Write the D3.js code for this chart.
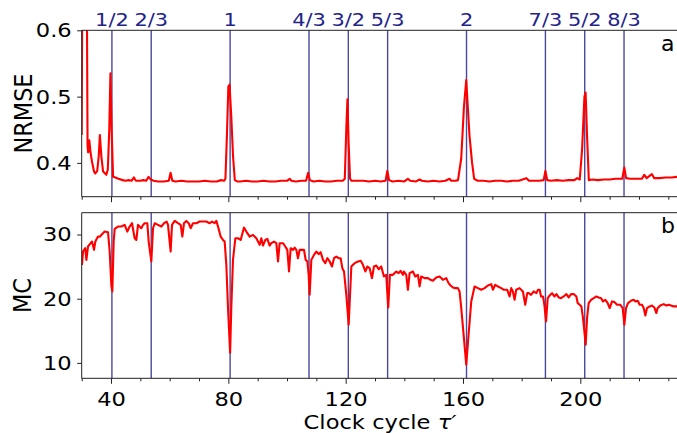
<!DOCTYPE html>
<html><head><meta charset="utf-8">
<script src="https://cdn.jsdelivr.net/npm/d3@7"></script>
<style>
body{margin:0;background:#fff;}
svg{display:block;font-family:"DejaVu Sans",sans-serif;}
</style></head>
<body><svg id="c" width="677" height="433"></svg>
<script>
// ---- data ----
const nrmseTau = [30.0,30.4,31.5,32.0,32.2,32.6,33.0,33.5,34.2,34.6,35.3,35.8,36.2,36.7,37.3,38.0,38.4,38.9,39.4,39.8,40.2,40.7,41.5,42.5,44,45,46,47,47.8,48.5,50,51,52,52.8,53.5,54.5,56,58,59.7,60.3,60.9,62,64,66,68,70,72,74,76,77.5,78.5,79.0,79.5,80.0,80.4,81.0,81.6,82.2,83,84,86,88,90,92,94,96,98,100,100.9,101.5,103,105,106.5,107.2,107.8,109,111,113,115,117,119,119.7,120.2,120.6,121.0,121.5,122,124,126,128,130,132,133.6,134.2,134.8,136,138,140,141.2,142,144,145.2,146,148,150,152,154,155.4,156,157.5,158.3,159.4,160.3,161.1,162.2,163.1,163.8,165,167,169,171,173,175,177,179,181.6,182.5,184,186,187.5,188.1,188.7,190,192,194,196,198,198.9,199.8,200.6,201.4,201.8,202.3,202.9,204,206,208,210,212,214.3,215.0,215.6,217,219,221,221.8,222.6,224.4,225.2,227,229,231,233.3];
const nrmse = [0.442,0.9,0.9,0.425,0.416,0.434,0.416,0.402,0.387,0.384,0.388,0.41,0.442,0.41,0.387,0.384,0.382,0.39,0.45,0.535,0.45,0.379,0.378,0.376,0.374,0.373,0.374,0.373,0.378,0.373,0.373,0.374,0.373,0.379,0.375,0.373,0.372,0.372,0.373,0.385,0.373,0.372,0.373,0.372,0.372,0.372,0.373,0.372,0.372,0.374,0.373,0.376,0.44,0.515,0.518,0.47,0.41,0.374,0.372,0.372,0.373,0.372,0.372,0.373,0.372,0.372,0.373,0.373,0.376,0.373,0.372,0.373,0.373,0.385,0.374,0.372,0.373,0.372,0.372,0.373,0.373,0.376,0.45,0.496,0.43,0.376,0.373,0.373,0.373,0.372,0.373,0.372,0.373,0.388,0.374,0.372,0.373,0.372,0.376,0.373,0.372,0.375,0.373,0.372,0.373,0.372,0.373,0.376,0.373,0.373,0.374,0.407,0.483,0.525,0.442,0.40,0.376,0.373,0.373,0.372,0.373,0.373,0.372,0.373,0.373,0.377,0.373,0.373,0.373,0.374,0.388,0.374,0.373,0.374,0.373,0.374,0.374,0.377,0.375,0.42,0.500,0.506,0.44,0.374,0.375,0.374,0.375,0.375,0.376,0.376,0.393,0.377,0.376,0.376,0.376,0.382,0.377,0.383,0.377,0.377,0.378,0.378,0.379];

const mcTau = [30.1,30.45,31.2,31.6,32.15,33.06,33.51,34.2,34.65,35.56,36.24,36.92,37.83,38.97,39.54,40.1,40.44,40.9,41.24,42.38,43.51,44.65,45.56,46.35,47.15,48.06,48.63,49.2,50.33,50.9,51.47,52.38,52.83,53.74,54.31,54.88,56.01,57.15,58.06,58.97,59.42,60.33,60.79,61.7,62.83,63.74,64.31,64.88,65.67,66.47,67.15,67.94,69.08,70.22,71.35,72.49,73.63,74.42,75.33,75.9,76.47,77.38,78.17,78.74,79.31,79.88,80.6,81.0,81.58,82.38,83.29,84.2,85.33,86.13,87.27,88.4,89.54,90.68,91.24,91.81,92.61,93.29,94.08,94.65,95.56,96.36,96.93,97.49,98.63,99.42,100.1,100.68,101.24,102.04,102.61,103.18,103.74,104.31,105.11,105.79,106.36,106.93,107.38,107.72,108.29,109.2,109.99,110.79,111.47,112.27,113.06,113.74,114.54,115.33,116.02,116.81,117.61,118.29,118.86,119.43,120.22,121.02,121.93,122.49,123.06,124.2,125.11,125.9,126.7,127.38,128.17,128.97,129.65,130.45,131.24,132.13,133.04,133.83,134.51,135.08,136.1,137.24,138.04,138.72,139.51,139.85,140.65,141.22,141.79,142.92,143.72,144.63,145.2,145.76,146.9,148.04,148.94,149.74,150.88,152.01,153.15,154.29,155.08,155.76,156.56,157.35,158.26,158.83,159.4,160.31,161.1,161.9,162.81,163.94,165.08,166.22,167.35,168.49,169.63,170.2,170.99,171.9,173.04,173.94,175.08,175.88,176.44,177.01,177.58,178.15,179.29,180.42,181.22,181.9,182.4,183.19,184.1,185.01,185.58,186.15,186.6,187.28,187.74,188.31,188.88,189.56,190.35,191.15,191.83,192.63,193.42,194.33,195.24,196.03,196.83,197.74,198.65,199.1,199.78,200.35,200.92,201.38,201.83,202.29,202.85,203.65,204.56,205.47,206.26,207.06,207.74,208.54,209.33,210.01,210.81,211.6,212.51,213.65,214.44,215.01,215.58,216.26,217.28,218.19,218.76,219.56,220.24,221.03,221.6,222.17,222.74,223.65,224.44,225.24,225.92,226.38,227.28,228.42,229.33,230.13,230.92,231.83,233.3];
const mc = [25.28,27.35,27.87,26.05,28.13,28.65,28.91,27.61,28.91,29.68,29.68,30.05,30.46,30.36,27.35,22.1,21.13,28.91,30.88,31.24,31.24,31.5,30.46,31.24,31.76,29.42,29.16,31.5,30.98,31.5,31.76,31.76,28.91,25.8,30.98,31.76,31.5,31.24,31.76,32.02,31.5,27.35,31.5,32.12,31.76,31.5,29.68,31.76,32.12,31.76,30.98,31.76,31.76,32.02,32.02,32.02,31.76,32.02,31.76,32.12,31.24,29.68,29.16,28.91,25.28,18.54,11.6,18.54,26.05,29.42,29.42,29.16,31.08,30.46,29.68,29.94,29.42,28.39,29.42,28.28,29.16,29.32,28.28,28.65,28.91,28.65,25.8,28.65,28.65,28.13,27.61,24.24,27.87,27.61,27.97,27.61,26.31,27.61,27.61,27.61,26.05,25.8,23.72,20.61,26.05,26.83,27.35,26.94,27.25,26.05,25.54,26.31,25.8,25.02,26.31,26.57,26.31,26.31,24.76,24.24,20.61,15.95,25.02,25.28,25.54,25.8,25.9,25.28,24.24,25.02,24.76,23.2,25.02,25.17,24.6,25.02,23.46,23.72,18.64,23.72,23.72,24.24,23.98,24.34,23.72,24.24,23.72,21.39,23.98,24.24,23.46,23.72,21.91,23.46,23.2,23.2,22.94,22.79,23.31,23.46,22.94,23.2,22.43,22.06,21.75,21.65,21.65,21.13,18.54,13.88,9.73,14.39,19.58,21.91,21.65,21.39,21.65,22.06,22.27,21.39,22.17,21.91,21.65,21.39,21.39,20.35,21.65,21.13,19.83,21.39,21.65,21.13,19.06,20.87,20.87,20.61,21.13,20.87,21.39,21.39,20.35,20.35,19.06,16.47,20.09,20.51,20.87,20.35,20.72,20.2,20.09,20.35,20.72,20.2,20.72,20.72,20.35,19.32,19.06,18.8,16.98,14.91,12.84,16.98,19.32,19.83,20.09,20.35,20.2,20.09,19.58,19.83,19.32,18.54,19.58,19.48,19.06,19.06,18.54,15.95,18.54,19.32,19.68,19.83,19.58,19.68,19.06,19.06,18.54,17.4,18.54,18.8,18.95,18.64,17.77,18.54,18.95,19.16,18.95,19.06,18.95,18.8,18.8];

const resonanceLabels = ["1/2","2/3","1","4/3","3/2","5/3","2","7/3","5/2","8/3"];
const resonanceTau = [40.3,53.7,80.6,107.5,120.9,134.3,161.2,188.1,201.5,214.9];
const xMajorTicks = [40,80,120,160,200];
const xMinorTicks = [30,50,60,70,90,100,110,130,140,150,170,180,190,210,220,230];
const nrmseTicks = [0.4,0.5,0.6];
const mcTicks = [10,20,30];

// ---- layout ----
const SX = 1.13; // horizontal stretch of the source figure's glyphs
const svg = d3.select("#c");
const L = 81.7, R = 678;
const x = d3.scaleLinear().domain([30, 233.3]).range([L, R]);
const panels = [
  {top:30.3, bottom:196.7, dom:[0.349,0.6], ticks:nrmseTicks, fmt:d3.format(".1f"), label:"NRMSE", tag:"a", xs:nrmseTau, ys:nrmse, showX:false, lx:31.7},
  {top:212.7, bottom:378.3, dom:[7.6,33.4], ticks:mcTicks, fmt:d3.format("d"), label:"MC", tag:"b", xs:mcTau, ys:mc, showX:true, lx:30.5}
];
const lineCol = "#2a2a8c";
const axisCol = "#222";

function stretchAxisText(sel){
  sel.selectAll("text").each(function(){
    const t = d3.select(this);
    const ox = +t.attr("x") || 0;
    t.attr("x", ox/SX).attr("transform", `scale(${SX},1)`);
  });
}

panels.forEach((p,i)=>{
  const y = d3.scaleLinear().domain(p.dom).range([p.bottom, p.top]);
  const g = svg.append("g");
  const cid = "clip"+i;
  svg.append("clipPath").attr("id",cid).append("rect")
     .attr("x",L).attr("y",p.top).attr("width",R-L).attr("height",p.bottom-p.top);

  g.selectAll("line.res").data(resonanceTau).join("line")
    .attr("x1",d=>x(d)).attr("x2",d=>x(d)).attr("y1",p.top).attr("y2",p.bottom)
    .attr("stroke",lineCol).attr("stroke-width",1.4).attr("opacity",0.85);

  const line = d3.line().x((d,j)=>x(p.xs[j])).y(d=>y(d));
  g.append("path").datum(p.ys).attr("d",line).attr("clip-path",`url(#${cid})`)
    .attr("fill","none").attr("stroke","#ff0000").attr("stroke-width",2.1).attr("stroke-linejoin","round");

  g.append("path").attr("d",`M${R},${p.top}H${L}V${p.bottom}H${R}`)
    .attr("fill","none").attr("stroke",axisCol).attr("stroke-width",1);

  const xa = g.append("g").attr("transform",`translate(0,${p.bottom})`)
    .call(d3.axisBottom(x).tickValues(xMajorTicks).tickSize(5.5).tickPadding(8.5)
      .tickFormat(p.showX ? d3.format("d") : ""));
  const xm = g.append("g").attr("transform",`translate(0,${p.bottom})`)
    .call(d3.axisBottom(x).tickValues(xMinorTicks).tickSize(3).tickFormat(""));
  [xa,xm].forEach(a=>{a.select(".domain").remove(); a.selectAll("line").attr("stroke",axisCol).attr("stroke-width",1);});
  xa.selectAll("text").attr("font-size",20).attr("fill","#000").attr("font-family","DejaVu Sans");
  stretchAxisText(xa);

  const ya = g.append("g").attr("transform",`translate(${L},0)`)
    .call(d3.axisLeft(y).tickValues(p.ticks).tickSize(4.5).tickPadding(5.5).tickFormat(p.fmt));
  ya.select(".domain").remove();
  ya.selectAll("line").attr("stroke",axisCol).attr("stroke-width",1);
  ya.selectAll("text").attr("font-size",20).attr("fill","#000").attr("font-family","DejaVu Sans");
  stretchAxisText(ya);

  svg.append("text").attr("transform",`translate(${p.lx},${(p.top+p.bottom)/2}) scale(${SX},1) rotate(-90)`)
    .attr("text-anchor","middle").attr("font-size",22.4).attr("fill","#000").text(p.label);

  svg.append("text").attr("transform",`translate(661,${p.top+20.5})`)
    .attr("font-size",22).attr("fill","#000").text(p.tag);
});

svg.append("g").selectAll("text").data(resonanceLabels).join("text")
  .attr("transform",(d,i)=>`translate(${x(resonanceTau[i])},26) scale(${SX},1)`)
  .attr("text-anchor","middle").attr("font-size",18.5).attr("fill","#23238a").text(d=>d);

const xl = svg.append("text").attr("transform",`translate(380,428.5) scale(${SX},1)`).attr("text-anchor","middle")
  .attr("font-size",20).attr("fill","#000");
xl.append("tspan").text("Clock cycle ");
xl.append("tspan").attr("font-style","italic").text("τ′");
</script></body></html>
